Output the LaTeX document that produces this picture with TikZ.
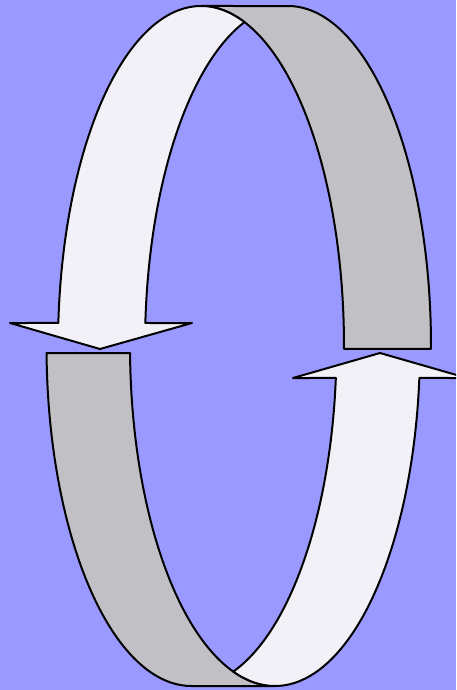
\documentclass[tikz,border=0pt]{standalone}
\definecolor{bgblue}{RGB}{153,153,255}
\definecolor{lightband}{RGB}{242,241,247}
\definecolor{grayband}{RGB}{192,192,197}
\begin{document}
\begin{tikzpicture}[x=0.5pt,y=-0.5pt,
  band/.style={draw=black, line width=1pt, line join=round},
  frontface/.style={band, fill=lightband},
  backface/.style={band, fill=grayband}]
\useasboundingbox (0,0) rectangle (456,690);
\clip (0,0) rectangle (456,690);
\fill[bgblue] (0,0) rectangle (456,690);
% top back (gray)
\path[backface] plot[domain=-0.5:90, samples=90] ({288+143*cos(\x)},{346-340*sin(\x)})
  -- plot[domain=90:-0.5, samples=90] ({201+143*cos(\x)},{346-340*sin(\x)}) -- cycle;
% top front (light) with arrow head
\path[frontface] (10,323) -- (100,349) -- (192,323)
  -- plot[domain=176.12:107.7, samples=70] ({288+143*cos(\x)},{346-340*sin(\x)})
  -- plot[domain=72.3:176.12, samples=100] ({201+143*cos(\x)},{346-340*sin(\x)}) -- cycle;
% bottom back (gray)
\path[backface] plot[domain=181.18:270, samples=90] ({191.5+145*cos(\x)},{346-340*sin(\x)})
  -- plot[domain=270:181.18, samples=90] ({275+145*cos(\x)},{346-340*sin(\x)}) -- cycle;
% bottom front (light) with arrow head
\path[frontface] (293,378) -- (380,353) -- (467,378)
  -- plot[domain=-5.4:-106.7, samples=100] ({275+145*cos(\x)},{346-340*sin(\x)})
  -- plot[domain=-73.3:-5.4, samples=70] ({191.5+145*cos(\x)},{346-340*sin(\x)}) -- cycle;
\end{tikzpicture}
\end{document}
